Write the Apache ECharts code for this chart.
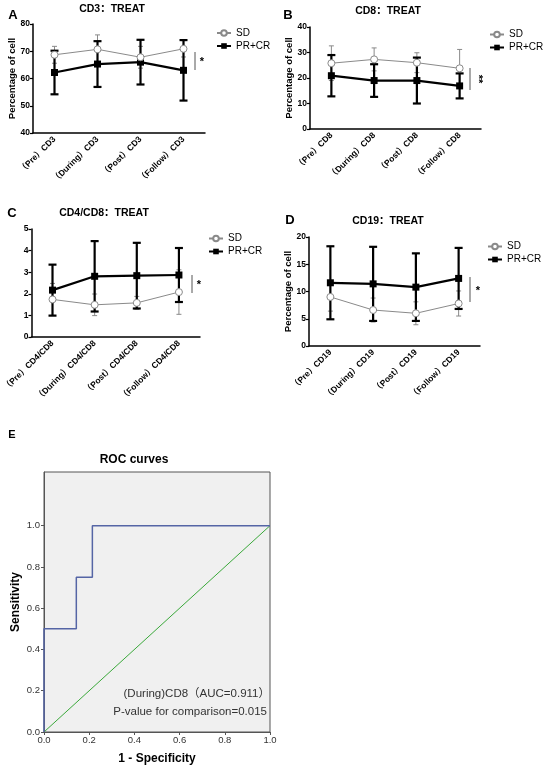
<!DOCTYPE html>
<html><head><meta charset="utf-8">
<script src="https://cdn.jsdelivr.net/npm/echarts@6/dist/echarts.min.js"></script>
<style>html,body{margin:0;padding:0;background:#fff}#c{width:543px;height:772px}</style>
</head><body><div id="c"></div>
<script>
// ---------- data ----------
const catsA = ['（Pre）CD3','（During）CD3','（Post）CD3','（Follow）CD3'];
const catsB = ['（Pre）CD8','（During）CD8','（Post）CD8','（Follow）CD8'];
const catsC = ['（Pre）CD4/CD8','（During）CD4/CD8','（Post）CD4/CD8','（Follow）CD4/CD8'];
const catsD = ['（Pre）CD19','（During）CD19','（Post）CD19','（Follow）CD19'];

const sdA = [68.7, 70.7, 67.8, 70.9];
const sdAErr = [3.1, 5.3, 4.0, 3.0];
const prA = [62.2, 65.3, 66.0, 63.0];
const prAErr = [8.0, 8.4, 8.2, 11.1];

const sdB = [25.8, 27.3, 26.0, 23.8];
const sdBErr = [6.8, 4.5, 3.9, 7.4];
const prB = [20.9, 19.0, 19.0, 16.9];
const prBErr = [8.1, 6.4, 9.0, 4.9];

const sdC = [1.74, 1.49, 1.58, 2.08];
const sdCErr = [0.74, 0.5, 0.3, 1.03];
const prC = [2.17, 2.81, 2.84, 2.87];
const prCErr = [1.18, 1.63, 1.52, 1.25];

const sdD = [9.0, 6.6, 6.0, 7.8];
const sdDErr = [2.6, 2.2, 2.1, 2.3];
const prD = [11.6, 11.4, 10.8, 12.4];
const prDErr = [6.7, 6.8, 6.2, 5.6];

const rocFpr = [0, 0, 0.143, 0.143, 0.214, 0.214, 1];
const rocTpr = [0, 0.5, 0.5, 0.75, 0.75, 1, 1];
const refFpr = [0, 1];
const refTpr = [0, 1];
const rocTicks = [0, 0.2, 0.4, 0.6, 0.8, 1.0];

// ---------- styling ----------
const FF = "'Liberation Sans', Arial, 'Noto Sans CJK SC', sans-serif";
const SD_COLOR = '#8a8a8a';

function errRender(color, width, cap) {
  return function (params, api) {
    const i = api.value(0), v = api.value(1), e = api.value(2);
    const t = api.coord([i, v + e]);
    const b = api.coord([i, v - e]);
    const x = t[0];
    const st = { stroke: color, lineWidth: width };
    return { type: 'group', children: [
      { type: 'line', shape: { x1: x, y1: t[1], x2: x, y2: b[1] }, style: st },
      { type: 'line', shape: { x1: x - cap, y1: t[1], x2: x + cap, y2: t[1] }, style: st },
      { type: 'line', shape: { x1: x - cap, y1: b[1], x2: x + cap, y2: b[1] }, style: st }
    ]};
  };
}

const panels = [
  { cats: catsA, sd: sdA, sdE: sdAErr, pr: prA, prE: prAErr, min: 40, max: 80, itv: 10,
    grid: { left: 33, top: 24, width: 172, height: 109 }, yname: 'Percentage of cell',
    legend: { left: 216, top: 27.5 } },
  { cats: catsB, sd: sdB, sdE: sdBErr, pr: prB, prE: prBErr, min: 0, max: 40, itv: 10,
    grid: { left: 310, top: 27, width: 171, height: 102 }, yname: 'Percentage of cell',
    legend: { left: 489, top: 29 } },
  { cats: catsC, sd: sdC, sdE: sdCErr, pr: prC, prE: prCErr, min: 0, max: 5, itv: 1,
    grid: { left: 31, top: 229, width: 169, height: 108 }, yname: '',
    legend: { left: 208, top: 233 } },
  { cats: catsD, sd: sdD, sdE: sdDErr, pr: prD, prE: prDErr, min: 0, max: 20, itv: 5,
    grid: { left: 309, top: 237, width: 171, height: 109 }, yname: 'Percentage of cell',
    legend: { left: 487, top: 241 } }
];

const grids = [], xAxes = [], yAxes = [], series = [], legends = [];
panels.forEach((p, k) => {
  grids.push(p.grid);
  xAxes.push({
    type: 'category', gridIndex: k, data: p.cats, boundaryGap: true,
    axisLine: { lineStyle: { color: '#000', width: 1.5 } },
    axisTick: { alignWithLabel: true, length: 3, lineStyle: { color: '#000', width: 1.2 } },
    axisLabel: { rotate: 45, margin: 5, color: '#000', fontSize: 8.5, fontWeight: 'bold', fontFamily: FF, interval: 0 },
    splitLine: { show: false }
  });
  yAxes.push({
    type: 'value', gridIndex: k, min: p.min, max: p.max, interval: p.itv,
    name: p.yname, nameLocation: 'middle', nameRotate: 90, nameGap: 16,
    nameTextStyle: { color: '#000', fontSize: 9.5, fontWeight: 'bold', fontFamily: FF },
    axisLine: { show: true, lineStyle: { color: '#000', width: 1.5 } },
    axisTick: { show: true, length: 3, lineStyle: { color: '#000', width: 1.2 } },
    axisLabel: { margin: 3, color: '#000', fontSize: 8.5, fontWeight: 'bold', fontFamily: FF },
    splitLine: { show: false }
  });
  series.push({
    type: 'custom', name: 'SD err', xAxisIndex: k, yAxisIndex: k, z: 2,
    renderItem: errRender(SD_COLOR, 1, 2.5),
    encode: { x: 0, y: 1 },
    data: p.sd.map((v, i) => [i, v, p.sdE[i]])
  });
  series.push({
    type: 'custom', name: 'PR+CR err', xAxisIndex: k, yAxisIndex: k, z: 3,
    renderItem: errRender('#000', 2.2, 4),
    encode: { x: 0, y: 1 },
    data: p.pr.map((v, i) => [i, v, p.prE[i]])
  });
  series.push({
    type: 'line', name: 'PR+CR', xAxisIndex: k, yAxisIndex: k, z: 4,
    data: p.pr, symbol: 'rect', symbolSize: 7,
    lineStyle: { color: '#000', width: 2.2 },
    itemStyle: { color: '#000' }, animation: false
  });
  series.push({
    type: 'line', name: 'SD', xAxisIndex: k, yAxisIndex: k, z: 5,
    data: p.sd, symbol: 'circle', symbolSize: 7,
    lineStyle: { color: SD_COLOR, width: 1 },
    itemStyle: { color: '#fff', borderColor: SD_COLOR, borderWidth: 1 }, animation: false
  });
  legends.push({
    left: p.legend.left, top: p.legend.top, orient: 'vertical', padding: 0,
    data: ['SD', 'PR+CR'], itemWidth: 14, itemHeight: 7, itemGap: 2,
    textStyle: { color: '#000', fontSize: 10, fontFamily: FF, lineHeight: 11 },
    selectedMode: false
  });
});

// ROC panel (index 4)
grids.push({ left: 44, top: 472, width: 226, height: 260, show: true,
  backgroundColor: '#f0f0f0', borderColor: '#555', borderWidth: 1 });
xAxes.push({
  type: 'value', gridIndex: 4, min: 0, max: 1,
  name: '1 - Specificity', nameLocation: 'middle', nameGap: 21,
  nameTextStyle: { color: '#000', fontSize: 12, fontWeight: 'bold', fontFamily: FF },
  axisLine: { show: true, lineStyle: { color: '#555', width: 1 } },
  axisTick: { show: true, length: 3, customValues: rocTicks, lineStyle: { color: '#555' } },
  axisLabel: { customValues: rocTicks, color: '#333', fontSize: 9.5, fontFamily: FF, margin: 4,
    formatter: v => v.toFixed(1) },
  splitLine: { show: false }
});
yAxes.push({
  type: 'value', gridIndex: 4, min: 0, max: 1.26,
  name: 'Sensitivity', nameLocation: 'middle', nameRotate: 90, nameGap: 22,
  nameTextStyle: { color: '#000', fontSize: 12, fontWeight: 'bold', fontFamily: FF },
  axisLine: { show: true, lineStyle: { color: '#555', width: 1 } },
  axisTick: { show: true, length: 3, customValues: rocTicks, lineStyle: { color: '#555' } },
  axisLabel: { customValues: rocTicks, color: '#333', fontSize: 9.5, fontFamily: FF, margin: 4,
    formatter: v => v.toFixed(1) },
  splitLine: { show: false }
});
series.push({
  type: 'line', name: 'Reference', xAxisIndex: 4, yAxisIndex: 4, symbol: 'none',
  data: refFpr.map((x, i) => [x, refTpr[i]]),
  lineStyle: { color: '#3aa83a', width: 1 }, animation: false
});
series.push({
  type: 'line', name: '(During)CD8', xAxisIndex: 4, yAxisIndex: 4, symbol: 'none',
  data: rocFpr.map((x, i) => [x, rocTpr[i]]),
  lineStyle: { color: '#5565a5', width: 1.5 }, animation: false
});

function txt(x, y, s, o, extra) {
  return Object.assign({ type: 'text', x: x, y: y, z: 10,
    style: Object.assign({ text: s, fill: '#000', fontFamily: FF, fontSize: 11, fontWeight: 'bold',
      align: 'center', verticalAlign: 'middle' }, o || {}) }, extra || {});
}
function vline(x, y1, y2) {
  return { type: 'line', z: 10, shape: { x1: x, y1: y1, x2: x, y2: y2 }, style: { stroke: '#555', lineWidth: 1 } };
}

const graphics = [
  txt(13, 15, 'A', { fontSize: 13 }),
  txt(112, 9, 'CD3：TREAT', { fontSize: 10.5 }),
  txt(288, 15, 'B', { fontSize: 13 }),
  txt(388, 11, 'CD8：TREAT', { fontSize: 10.5 }),
  txt(12, 213, 'C', { fontSize: 13 }),
  txt(104, 213, 'CD4/CD8：TREAT', { fontSize: 10.5 }),
  txt(290, 220, 'D', { fontSize: 13 }),
  txt(388, 221, 'CD19：TREAT', { fontSize: 10.5 }),
  vline(195, 52, 70), txt(202, 62, '*', { fontSize: 11 }),
  vline(470, 68, 90), txt(478, 79, '**', { fontSize: 11 }, { rotation: -Math.PI / 2 }),
  vline(192, 275, 293), txt(199, 285, '*', { fontSize: 11 }),
  vline(470, 277, 302), txt(478, 291, '*', { fontSize: 11 }),
  txt(12, 435, 'E', { fontSize: 11 }),
  txt(134, 460, 'ROC curves', { fontSize: 12 }),
  txt(270, 694, '(During)CD8（AUC=0.911）', { fontSize: 11.5, fontWeight: 'normal', fill: '#333', align: 'right' }),
  txt(267, 712, 'P-value for comparison=0.015', { fontSize: 11.5, fontWeight: 'normal', fill: '#333', align: 'right' })
];

const chart = echarts.init(document.getElementById('c'), null, { renderer: 'canvas' });
chart.setOption({
  animation: false,
  backgroundColor: '#fff',
  grid: grids, xAxis: xAxes, yAxis: yAxes, series: series, legend: legends,
  graphic: graphics
});
</script></body></html>
